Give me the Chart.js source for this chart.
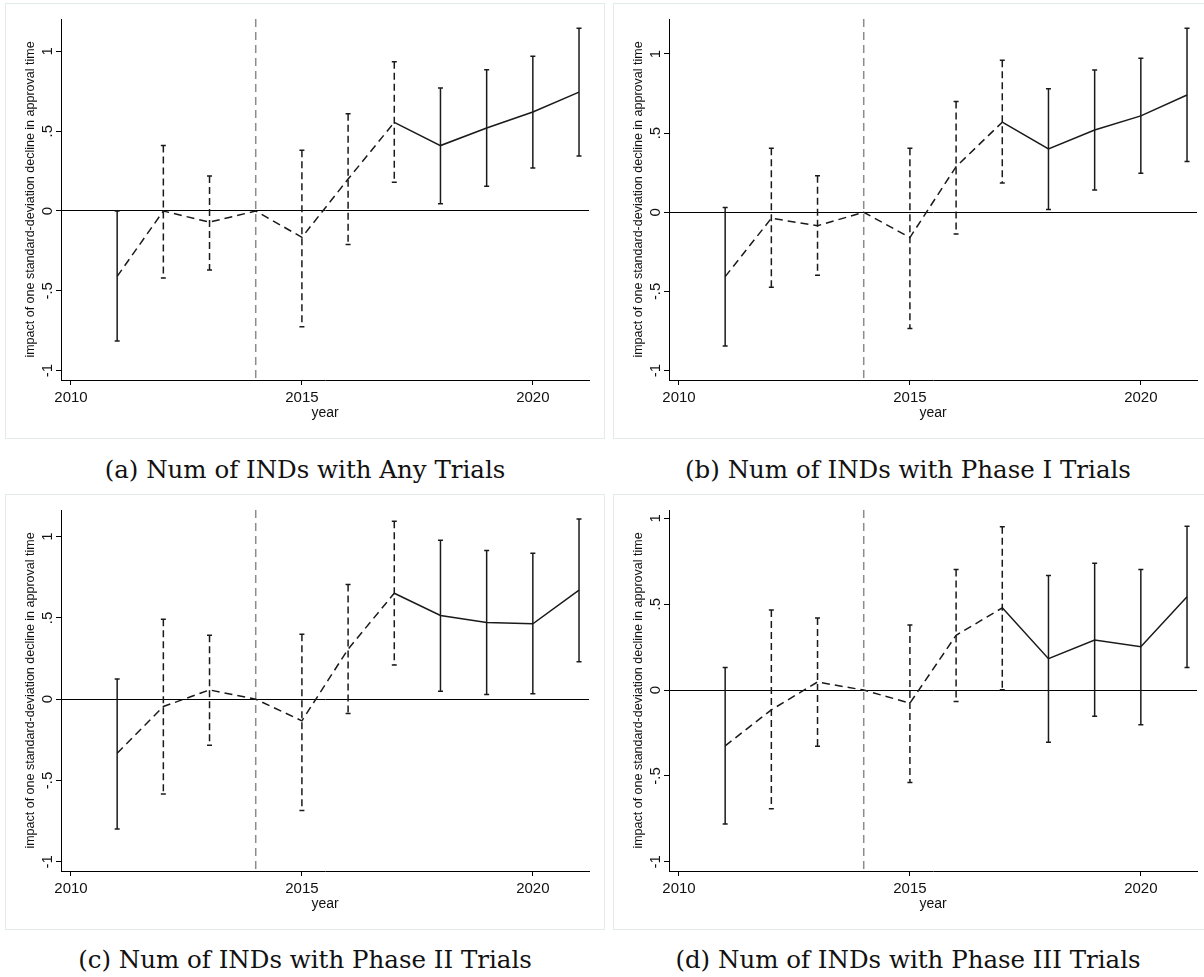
<!DOCTYPE html>
<html>
<head>
<meta charset="utf-8">
<script src="https://cdn.jsdelivr.net/npm/chart.js@4/dist/chart.umd.min.js"></script>
<style>
  body { margin: 0; background: #fff; width: 1204px; height: 977px; position: relative; overflow: hidden; }
  .panel { position: absolute; width: 600px; height: 436px; box-shadow: inset 0 0 0 1px #e3eaec; }
  .panel canvas { position: absolute; left: 0; top: 0; }
  .caption { position: absolute; width: 600px; text-align: center; font-family: "DejaVu Serif", serif; font-size: 24.5px; color: #111; line-height: 30px; }
</style>
</head>
<body>
<div class="panel" style="left:5px; top:3px;"><canvas id="chartA" width="600" height="436"></canvas></div>
<div class="panel" style="left:613px; top:3px;"><canvas id="chartB" width="600" height="436"></canvas></div>
<div class="panel" style="left:5px; top:494px;"><canvas id="chartC" width="600" height="436"></canvas></div>
<div class="panel" style="left:613px; top:494px;"><canvas id="chartD" width="600" height="436"></canvas></div>
<div class="caption" style="left:5px; top:455px;">(a) Num of INDs with Any Trials</div>
<div class="caption" style="left:608px; top:455px;">(b) Num of INDs with Phase I Trials</div>
<div class="caption" style="left:5px; top:945px;">(c) Num of INDs with Phase II Trials</div>
<div class="caption" style="left:608px; top:945px;">(d) Num of INDs with Phase III Trials</div>
<script>
// event-study coefficients by year, 2014 is the omitted reference year
const years = [2011, 2012, 2013, 2014, 2015, 2016, 2017, 2018, 2019, 2020, 2021];
const refYear = 2014;
const dashedCIYears = [2012, 2013, 2015, 2016, 2017];

const anyEst = [-0.41, 0.0, -0.07, 0, -0.165, 0.20, 0.555, 0.41, 0.52, 0.62, 0.745];
const anyLo  = [-0.815, -0.42, -0.37, null, -0.725, -0.21, 0.18, 0.045, 0.155, 0.27, 0.345];
const anyHi  = [0.0, 0.41, 0.22, null, 0.38, 0.61, 0.935, 0.77, 0.885, 0.97, 1.145];

const p1Est = [-0.407, -0.038, -0.085, 0, -0.16, 0.288, 0.569, 0.40, 0.52, 0.609, 0.741];
const p1Lo  = [-0.845, -0.474, -0.398, null, -0.735, -0.137, 0.185, 0.017, 0.141, 0.246, 0.32];
const p1Hi  = [0.03, 0.405, 0.231, null, 0.405, 0.70, 0.96, 0.78, 0.898, 0.973, 1.163];

const p2Est = [-0.332, -0.045, 0.057, 0, -0.133, 0.308, 0.652, 0.515, 0.472, 0.464, 0.671];
const p2Lo  = [-0.798, -0.583, -0.283, null, -0.685, -0.088, 0.211, 0.049, 0.029, 0.033, 0.23];
const p2Hi  = [0.125, 0.492, 0.394, null, 0.40, 0.706, 1.095, 0.978, 0.915, 0.898, 1.108];

const p3Est = [-0.325, -0.115, 0.047, 0, -0.076, 0.319, 0.479, 0.183, 0.292, 0.253, 0.543];
const p3Lo  = [-0.78, -0.691, -0.327, null, -0.539, -0.066, 0.002, -0.304, -0.152, -0.202, 0.132];
const p3Hi  = [0.132, 0.467, 0.42, null, 0.379, 0.702, 0.951, 0.667, 0.739, 0.702, 0.955];

const xTicks = [2010, 2015, 2020];
const yTicks = [-1, -0.5, 0, 0.5, 1];
const yTickLabels = ['-1', '-.5', '0', '.5', '1'];
const xLimits = [2009.784, 2021.216];
const yLimits = [[-1.059, 1.203], [-1.06, 1.221], [-1.057, 1.164], [-1.054, 1.049]];

const yTitle = 'impact of one standard-deviation decline in approval time';
const ink = '#1a1a1a';
Chart.defaults.font.family = '"Liberation Sans", Arial, sans-serif';

// reference line, confidence intervals and rotated y labels
const errorBars = {
  id: 'errorBars',
  beforeDatasetsDraw(chart) {
    const { ctx, chartArea, scales: { x } } = chart;
    const xr = x.getPixelForValue(refYear);
    ctx.save();
    ctx.strokeStyle = '#8c8c8c';
    ctx.lineWidth = 1.5;
    ctx.setLineDash([8, 5]);
    ctx.beginPath();
    ctx.moveTo(xr, chartArea.top);
    ctx.lineTo(xr, chartArea.bottom);
    ctx.stroke();
    ctx.restore();
  },
  afterDatasetsDraw(chart, args, opts) {
    const { ctx, scales: { x, y } } = chart;
    ctx.save();
    ctx.strokeStyle = ink;
    ctx.lineWidth = 1.5;
    years.forEach((yr, i) => {
      if (opts.lo[i] == null) return;
      const px = x.getPixelForValue(yr);
      const top = y.getPixelForValue(opts.hi[i]);
      const bot = y.getPixelForValue(opts.lo[i]);
      ctx.setLineDash(dashedCIYears.includes(yr) ? [7, 4] : []);
      ctx.beginPath();
      ctx.moveTo(px, top);
      ctx.lineTo(px, bot);
      ctx.stroke();
      ctx.setLineDash([]);
      ctx.beginPath();
      ctx.moveTo(px - 2.5, top); ctx.lineTo(px + 2.5, top);
      ctx.moveTo(px - 2.5, bot); ctx.lineTo(px + 2.5, bot);
      ctx.stroke();
    });
    ctx.fillStyle = '#111';
    ctx.font = '15px "Liberation Sans", Arial, sans-serif';
    ctx.textAlign = 'center';
    ctx.textBaseline = 'middle';
    yTicks.forEach((v, i) => {
      ctx.save();
      ctx.translate(y.left + 25, y.getPixelForValue(v));
      ctx.rotate(-Math.PI / 2);
      ctx.fillText(yTickLabels[i], 0, 0);
      ctx.restore();
    });
    ctx.restore();
  }
};

function drawPanel(id, est, lo, hi, yRange) {
  const pts = years.map((yr, i) => ({ x: yr, y: est[i] }));
  new Chart(document.getElementById(id), {
    type: 'line',
    data: {
      datasets: [
        { data: pts.slice(0, 7), borderColor: ink, borderWidth: 1.5, borderDash: [8, 5], pointRadius: 0 },
        { data: pts.slice(6), borderColor: ink, borderWidth: 1.5, pointRadius: 0 }
      ]
    },
    options: {
      responsive: false,
      animation: false,
      layout: { padding: { left: 18, right: 16, top: 16, bottom: 17 } },
      plugins: {
        legend: { display: false },
        tooltip: { enabled: false },
        errorBars: { lo: lo, hi: hi }
      },
      scales: {
        x: {
          type: 'linear',
          min: xLimits[0],
          max: xLimits[1],
          afterBuildTicks: s => { s.ticks = xTicks.map(v => ({ value: v })); },
          afterFit: s => { s.height = 42; },
          ticks: { callback: v => String(v), font: { size: 15 }, color: '#111', padding: 4, maxRotation: 0, autoSkip: false },
          grid: { drawOnChartArea: false, tickLength: 5, tickColor: '#000' },
          border: { color: '#000', width: 1 },
          title: { display: true, text: 'year', font: { size: 14 }, color: '#111', padding: 0 }
        },
        y: {
          type: 'linear',
          min: yRange[0],
          max: yRange[1],
          afterBuildTicks: s => { s.ticks = yTicks.map(v => ({ value: v })); },
          afterFit: s => { s.width = 38; },
          ticks: { display: false },
          grid: {
            color: c => (c.tick && c.tick.value === 0 ? '#000' : 'rgba(0,0,0,0)'),
            tickColor: '#000',
            tickLength: 5,
            lineWidth: 1
          },
          border: { color: '#000', width: 1 },
          title: { display: true, text: yTitle, font: { size: 12.5 }, color: '#111', padding: 0 }
        }
      }
    },
    plugins: [errorBars]
  });
}

drawPanel('chartA', anyEst, anyLo, anyHi, yLimits[0]);
drawPanel('chartB', p1Est, p1Lo, p1Hi, yLimits[1]);
drawPanel('chartC', p2Est, p2Lo, p2Hi, yLimits[2]);
drawPanel('chartD', p3Est, p3Lo, p3Hi, yLimits[3]);
</script>
</body>
</html>
